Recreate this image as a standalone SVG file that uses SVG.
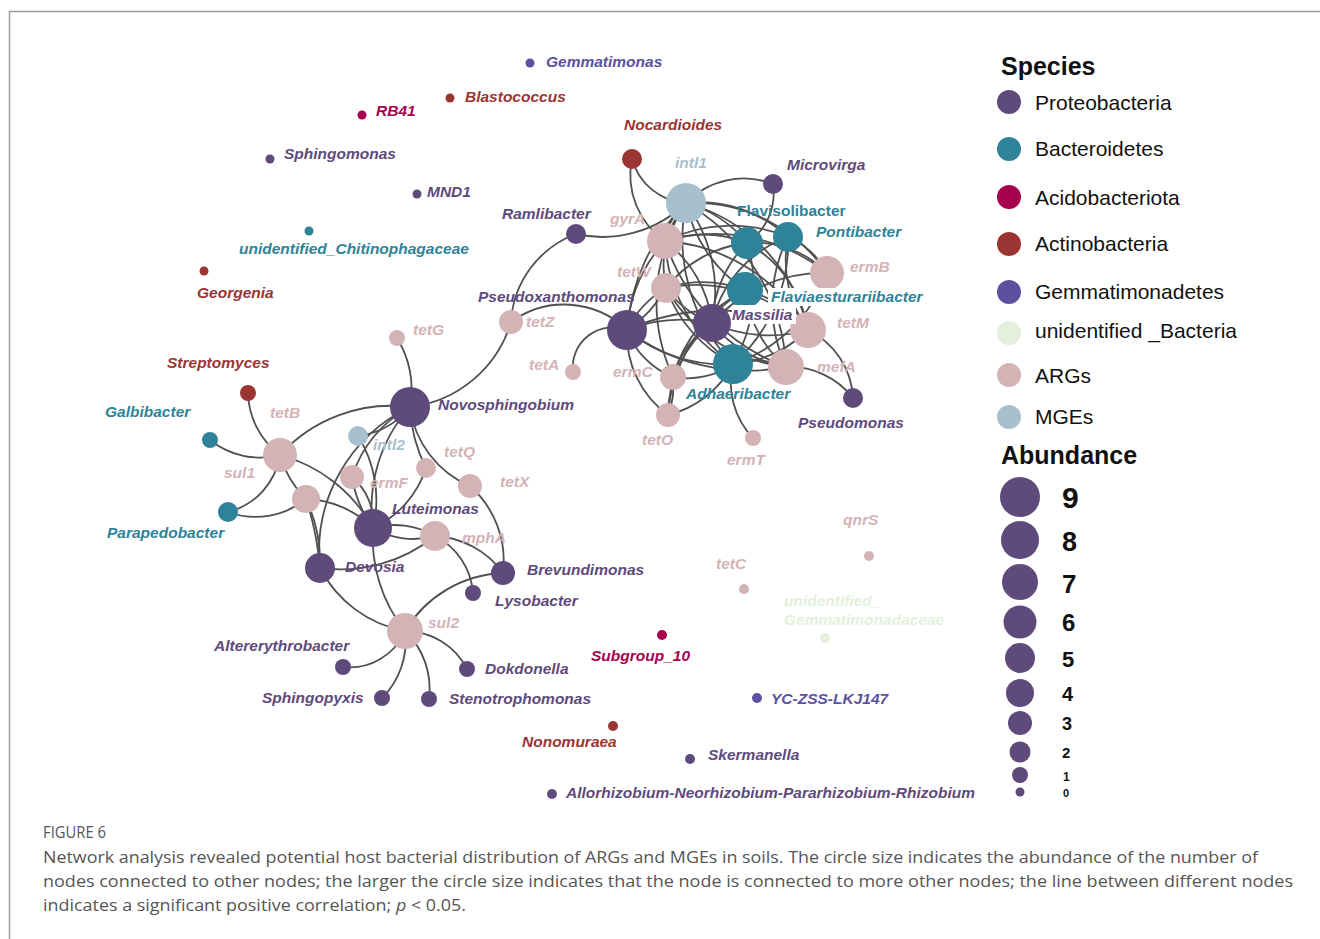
<svg xmlns="http://www.w3.org/2000/svg" width="1320" height="939" viewBox="0 0 1320 939">
<style>
.e{fill:none;stroke:#505050;stroke-width:1.8}
.t{font-family:"Liberation Sans",Arial,sans-serif;font-size:15.5px;font-style:italic;font-weight:bold}
.up{font-style:normal}
.pr{fill:#5f4a7c}.ba{fill:#2e8398}.ac{fill:#a6004f}.at{fill:#9b3533}.ge{fill:#5b51a0}.ub{fill:#e4f0dc}.ar{fill:#d3b3b6}.mg{fill:#a8bfce}
.lg{font-family:"Liberation Sans",Arial,sans-serif;font-size:21px;fill:#111}
.lh{font-family:"Liberation Sans",Arial,sans-serif;font-size:25px;font-weight:bold;fill:#111}
.ln{font-family:"Liberation Sans",Arial,sans-serif;font-weight:bold;fill:#111}
.cap{font-family:"Open Sans","Liberation Sans",sans-serif;font-size:17px;fill:#555}
</style>
<rect width="1320" height="939" fill="#fff"/>
<g id="frame"><path d="M9.5,939 V11.5 H1320" fill="none" stroke="#9a9a9a" stroke-width="1.5"/></g>
<g id="edges">
<path class="e" d="M632,159 A60,60 0 0 0 686,203"/>
<path class="e" d="M632,159 A80,80 0 0 0 665,241"/>
<path class="e" d="M576,234 A120,120 0 0 0 686,203"/>
<path class="e" d="M576,234 A100,100 0 0 0 511,322"/>
<path class="e" d="M773,184 A80,80 0 0 0 686,203"/>
<path class="e" d="M773,184 A60,60 0 0 1 747,243"/>
<path class="e" d="M686,203 A120,120 0 0 1 747,243"/>
<path class="e" d="M686,203 A130,130 0 0 1 788,237"/>
<path class="e" d="M686,203 A160,160 0 0 1 827,273"/>
<path class="e" d="M686,203 A140,140 0 0 0 745,290"/>
<path class="e" d="M686,203 A150,150 0 0 1 712,323"/>
<path class="e" d="M686,203 A180,180 0 0 0 733,364"/>
<path class="e" d="M686,203 A170,170 0 0 1 808,330"/>
<path class="e" d="M686,203 A200,200 0 0 1 786,367"/>
<path class="e" d="M686,203 A100,100 0 0 0 666,288"/>
<path class="e" d="M686,203 A60,60 0 0 0 665,241"/>
<path class="e" d="M686,203 A180,180 0 0 0 673,377"/>
<path class="e" d="M665,241 A120,120 0 0 1 747,243"/>
<path class="e" d="M665,241 A150,150 0 0 1 788,237"/>
<path class="e" d="M665,241 A180,180 0 0 1 827,273"/>
<path class="e" d="M665,241 A120,120 0 0 1 712,323"/>
<path class="e" d="M665,241 A160,160 0 0 0 733,364"/>
<path class="e" d="M665,241 A180,180 0 0 1 808,330"/>
<path class="e" d="M665,241 A200,200 0 0 0 786,367"/>
<path class="e" d="M666,288 A120,120 0 0 1 747,243"/>
<path class="e" d="M666,288 A120,120 0 0 1 745,290"/>
<path class="e" d="M666,288 A100,100 0 0 0 627,330"/>
<path class="e" d="M666,288 A120,120 0 0 1 627,330"/>
<path class="e" d="M666,288 A100,100 0 0 0 712,323"/>
<path class="e" d="M666,288 A140,140 0 0 0 733,364"/>
<path class="e" d="M666,288 A160,160 0 0 1 808,330"/>
<path class="e" d="M666,288 A160,160 0 0 0 786,367"/>
<path class="e" d="M627,330 A150,150 0 0 1 665,241"/>
<path class="e" d="M627,330 A200,200 0 0 1 686,203"/>
<path class="e" d="M627,330 A150,150 0 0 1 712,323"/>
<path class="e" d="M627,330 A150,150 0 0 0 733,364"/>
<path class="e" d="M627,330 A200,200 0 0 0 786,367"/>
<path class="e" d="M627,330 A220,220 0 0 1 808,330"/>
<path class="e" d="M627,330 A80,80 0 0 0 673,377"/>
<path class="e" d="M627,330 A100,100 0 0 0 668,415"/>
<path class="e" d="M573,372 A40,40 0 0 1 627,330"/>
<path class="e" d="M511,322 A90,90 0 0 1 627,330"/>
<path class="e" d="M712,323 A120,120 0 0 1 747,243"/>
<path class="e" d="M712,323 A120,120 0 0 1 788,237"/>
<path class="e" d="M712,323 A150,150 0 0 1 827,273"/>
<path class="e" d="M712,323 A140,140 0 0 0 808,330"/>
<path class="e" d="M712,323 A120,120 0 0 0 786,367"/>
<path class="e" d="M712,323 A100,100 0 0 0 673,377"/>
<path class="e" d="M712,323 A120,120 0 0 0 668,415"/>
<path class="e" d="M733,364 A150,150 0 0 0 747,243"/>
<path class="e" d="M733,364 A160,160 0 0 0 788,237"/>
<path class="e" d="M733,364 A150,150 0 0 0 827,273"/>
<path class="e" d="M733,364 A120,120 0 0 0 808,330"/>
<path class="e" d="M733,364 A80,80 0 0 1 673,377"/>
<path class="e" d="M733,364 A100,100 0 0 1 668,415"/>
<path class="e" d="M733,364 A80,80 0 0 0 753,438"/>
<path class="e" d="M733,364 A80,80 0 0 1 786,367"/>
<path class="e" d="M745,290 A120,120 0 0 1 808,330"/>
<path class="e" d="M745,290 A120,120 0 0 0 786,367"/>
<path class="e" d="M745,290 A140,140 0 0 0 673,377"/>
<path class="e" d="M745,290 A160,160 0 0 0 668,415"/>
<path class="e" d="M788,237 A80,80 0 0 1 827,273"/>
<path class="e" d="M747,243 A100,100 0 0 1 827,273"/>
<path class="e" d="M747,243 A120,120 0 0 1 808,330"/>
<path class="e" d="M788,237 A120,120 0 0 0 808,330"/>
<path class="e" d="M788,237 A150,150 0 0 0 786,367"/>
<path class="e" d="M786,367 A80,80 0 0 1 853,398"/>
<path class="e" d="M808,330 A80,80 0 0 1 853,398"/>
<path class="e" d="M673,377 A80,80 0 0 1 668,415"/>
<path class="e" d="M511,322 A120,120 0 0 1 410,407"/>
<path class="e" d="M397,338 A100,100 0 0 1 410,407"/>
<path class="e" d="M248,393 A80,80 0 0 0 280,455"/>
<path class="e" d="M210,440 A80,80 0 0 0 280,455"/>
<path class="e" d="M228,512 A70,70 0 0 0 280,455"/>
<path class="e" d="M228,512 A80,80 0 0 0 306,499"/>
<path class="e" d="M280,455 A150,150 0 0 1 410,407"/>
<path class="e" d="M280,455 A150,150 0 0 1 373,528"/>
<path class="e" d="M280,455 A100,100 0 0 0 306,499"/>
<path class="e" d="M306,499 A150,150 0 0 1 320,568"/>
<path class="e" d="M306,499 A300,300 0 0 1 320,568"/>
<path class="e" d="M306,499 A100,100 0 0 1 373,528"/>
<path class="e" d="M410,407 A80,80 0 0 1 358,436"/>
<path class="e" d="M410,407 A150,150 0 0 0 373,528"/>
<path class="e" d="M410,407 A120,120 0 0 0 352,477"/>
<path class="e" d="M410,407 A160,160 0 0 0 320,568"/>
<path class="e" d="M410,407 A150,150 0 0 0 426,468"/>
<path class="e" d="M410,407 A100,100 0 0 0 470,486"/>
<path class="e" d="M358,436 A120,120 0 0 1 373,528"/>
<path class="e" d="M352,477 A60,60 0 0 1 373,528"/>
<path class="e" d="M352,477 A120,120 0 0 0 373,528"/>
<path class="e" d="M426,468 A100,100 0 0 1 373,528"/>
<path class="e" d="M470,486 A100,100 0 0 1 503,573"/>
<path class="e" d="M373,528 A80,80 0 0 1 435,536"/>
<path class="e" d="M373,528 A80,80 0 0 0 435,536"/>
<path class="e" d="M373,528 A150,150 0 0 0 405,631"/>
<path class="e" d="M435,536 A150,150 0 0 1 320,568"/>
<path class="e" d="M435,536 A70,70 0 0 1 473,593"/>
<path class="e" d="M435,536 A90,90 0 0 1 503,573"/>
<path class="e" d="M320,568 A120,120 0 0 0 405,631"/>
<path class="e" d="M503,573 A120,120 0 0 0 405,631"/>
<path class="e" d="M405,631 A60,60 0 0 1 343,667"/>
<path class="e" d="M405,631 A80,80 0 0 1 382,698"/>
<path class="e" d="M405,631 A80,80 0 0 1 429,699"/>
<path class="e" d="M405,631 A70,70 0 0 1 467,669"/>
</g>
<g id="n-Gemmatimonas"><circle class="ge" cx="530" cy="63" r="4.5"/><text class="t ge" x="546" y="67">Gemmatimonas</text></g>
<g id="n-Blastococcus"><circle class="at" cx="450" cy="98" r="4.5"/><text class="t at" x="465" y="102">Blastococcus</text></g>
<g id="n-RB41"><circle class="ac" cx="362" cy="115" r="4.5"/><text class="t ac" x="376" y="116">RB41</text></g>
<g id="n-Sphingomonas"><circle class="pr" cx="270" cy="159" r="4.5"/><text class="t pr" x="284" y="159">Sphingomonas</text></g>
<g id="n-MND1"><circle class="pr" cx="417" cy="194" r="4.5"/><text class="t pr" x="427" y="197">MND1</text></g>
<g id="n-Chitinophagaceae"><circle class="ba" cx="309" cy="231" r="4.5"/><text class="t ba" x="239" y="254">unidentified_Chitinophagaceae</text></g>
<g id="n-Georgenia"><circle class="at" cx="204" cy="271" r="4.5"/><text class="t at" x="197" y="298">Georgenia</text></g>
<g id="n-Nocardioides"><circle class="at" cx="632" cy="159" r="10"/><text class="t at" x="624" y="130">Nocardioides</text></g>
<g id="n-intl1"><circle class="mg" cx="686" cy="203" r="20"/><text class="t mg" x="675" y="168">intl1</text></g>
<g id="n-Microvirga"><circle class="pr" cx="773" cy="184" r="10"/><text class="t pr" x="787" y="170">Microvirga</text></g>
<g id="n-Ramlibacter"><circle class="pr" cx="576" cy="234" r="10"/><text class="t pr" x="502" y="219">Ramlibacter</text></g>
<g id="n-gyrA"><circle class="ar" cx="665" cy="241" r="18"/><text class="t ar" x="610" y="224">gyrA</text></g>
<g id="n-Flavisolibacter"><circle class="ba" cx="747" cy="243" r="16"/><text class="t up ba" x="737" y="216">Flavisolibacter</text></g>
<g id="n-Pontibacter"><circle class="ba" cx="788" cy="237" r="15"/><text class="t ba" x="816" y="237">Pontibacter</text></g>
<g id="n-ermB"><circle class="ar" cx="827" cy="273" r="17"/><text class="t ar" x="850" y="272">ermB</text></g>
<g id="n-tetW"><circle class="ar" cx="666" cy="288" r="15"/><text class="t ar" x="617" y="277">tetW</text></g>
<g id="n-Pseudoxanthomonas"><circle class="pr" cx="627" cy="330" r="20"/><text class="t pr" x="478" y="302">Pseudoxanthomonas</text></g>
<g id="n-tetZ"><circle class="ar" cx="511" cy="322" r="12"/><text class="t ar" x="526" y="327">tetZ</text></g>
<g id="n-tetM"><circle class="ar" cx="808" cy="330" r="18"/><text class="t ar" x="837" y="328">tetM</text></g>
<g id="n-tetG"><circle class="ar" cx="397" cy="338" r="8"/><text class="t ar" x="413" y="335">tetG</text></g>
<g id="n-tetA"><circle class="ar" cx="573" cy="372" r="8"/><text class="t ar" x="529" y="370">tetA</text></g>
<g id="n-ermC"><circle class="ar" cx="673" cy="377" r="13"/><text class="t ar" x="613" y="377">ermC</text></g>
<g id="n-mefA"><circle class="ar" cx="786" cy="367" r="18"/><text class="t ar" x="817" y="372">mefA</text></g>
<g id="n-Adhaeribacter"><circle class="ba" cx="733" cy="364" r="20"/><text class="t ba" x="686" y="399">Adhaeribacter</text></g>
<g id="n-Pseudomonas"><circle class="pr" cx="853" cy="398" r="10"/><text class="t pr" x="798" y="428">Pseudomonas</text></g>
<g id="n-tetO"><circle class="ar" cx="668" cy="415" r="12"/><text class="t ar" x="642" y="445">tetO</text></g>
<g id="n-ermT"><circle class="ar" cx="753" cy="438" r="8"/><text class="t ar" x="727" y="465">ermT</text></g>
<g id="n-Flaviaesturariibacter"><circle class="ba" cx="745" cy="290" r="18"/><rect x="768" y="288" width="157" height="18" fill="#fff"/><text class="t ba" x="771" y="302">Flaviaesturariibacter</text></g>
<g id="n-Massilia"><circle class="pr" cx="712" cy="323" r="19"/><rect x="732" y="305" width="64" height="19" fill="#fff"/><text class="t pr" x="732" y="320">Massilia</text></g>
<g id="n-Streptomyces"><circle class="at" cx="248" cy="393" r="8"/><text class="t at" x="167" y="368">Streptomyces</text></g>
<g id="n-Novosphingobium"><circle class="pr" cx="410" cy="407" r="20"/><text class="t pr" x="438" y="410">Novosphingobium</text></g>
<g id="n-Galbibacter"><circle class="ba" cx="210" cy="440" r="8"/><text class="t ba" x="105" y="417">Galbibacter</text></g>
<g id="n-tetB"><circle class="ar" cx="280" cy="455" r="17"/><text class="t ar" x="270" y="418">tetB</text></g>
<g id="n-sul1"><circle class="ar" cx="306" cy="499" r="14"/><text class="t ar" x="224" y="478">sul1</text></g>
<g id="n-intl2"><circle class="mg" cx="358" cy="436" r="10"/><text class="t mg" x="373" y="450">intl2</text></g>
<g id="n-tetQ"><circle class="ar" cx="426" cy="468" r="10"/><text class="t ar" x="444" y="457">tetQ</text></g>
<g id="n-ermF"><circle class="ar" cx="352" cy="477" r="12"/><text class="t ar" x="370" y="488">ermF</text></g>
<g id="n-tetX"><circle class="ar" cx="470" cy="486" r="12"/><text class="t ar" x="500" y="487">tetX</text></g>
<g id="n-Parapedobacter"><circle class="ba" cx="228" cy="512" r="10"/><text class="t ba" x="107" y="538">Parapedobacter</text></g>
<g id="n-Luteimonas"><circle class="pr" cx="373" cy="528" r="19"/><text class="t pr" x="392" y="514">Luteimonas</text></g>
<g id="n-mphA"><circle class="ar" cx="435" cy="536" r="15"/><text class="t ar" x="462" y="543">mphA</text></g>
<g id="n-Devosia"><circle class="pr" cx="320" cy="568" r="15"/><text class="t pr" x="345" y="572">Devosia</text></g>
<g id="n-Brevundimonas"><circle class="pr" cx="503" cy="573" r="12"/><text class="t pr" x="527" y="575">Brevundimonas</text></g>
<g id="n-Lysobacter"><circle class="pr" cx="473" cy="593" r="8"/><text class="t pr" x="495" y="606">Lysobacter</text></g>
<g id="n-sul2"><circle class="ar" cx="405" cy="631" r="18"/><text class="t ar" x="428" y="628">sul2</text></g>
<g id="n-Altererythrobacter"><circle class="pr" cx="343" cy="667" r="8"/><text class="t pr" x="214" y="651">Altererythrobacter</text></g>
<g id="n-Dokdonella"><circle class="pr" cx="467" cy="669" r="8"/><text class="t pr" x="485" y="674">Dokdonella</text></g>
<g id="n-Sphingopyxis"><circle class="pr" cx="382" cy="698" r="8"/><text class="t pr" x="262" y="703">Sphingopyxis</text></g>
<g id="n-Stenotrophomonas"><circle class="pr" cx="429" cy="699" r="8"/><text class="t pr" x="449" y="704">Stenotrophomonas</text></g>
<g id="n-qnrS"><circle class="ar" cx="869" cy="556" r="5"/><text class="t ar" x="843" y="525">qnrS</text></g>
<g id="n-tetC"><circle class="ar" cx="744" cy="589" r="5"/><text class="t ar" x="716" y="569">tetC</text></g>
<g id="n-Gemmatimonadaceae"><circle class="ub" cx="825" cy="638" r="5"/><text class="t ub" x="784" y="606">unidentified_</text><text class="t ub" x="784" y="625">Gemmatimonadaceae</text></g>
<g id="n-Subgroup_10"><circle class="ac" cx="662" cy="635" r="5"/><text class="t ac" x="591" y="661">Subgroup_10</text></g>
<g id="n-YC-ZSS-LKJ147"><circle class="ge" cx="757" cy="698" r="5"/><text class="t ge" x="771" y="704">YC-ZSS-LKJ147</text></g>
<g id="n-Nonomuraea"><circle class="at" cx="613" cy="726" r="5"/><text class="t at" x="522" y="747">Nonomuraea</text></g>
<g id="n-Skermanella"><circle class="pr" cx="690" cy="759" r="5"/><text class="t pr" x="708" y="760">Skermanella</text></g>
<g id="n-Allorhizobium"><circle class="pr" cx="552" cy="794" r="5"/><text class="t pr" x="566" y="798">Allorhizobium-Neorhizobium-Pararhizobium-Rhizobium</text></g>
<g id="legend-species">
<text class="lh" x="1001" y="75">Species</text>
<circle class="pr" cx="1009" cy="102" r="12"/><text class="lg" x="1035" y="110">Proteobacteria</text>
<circle class="ba" cx="1009" cy="149" r="12"/><text class="lg" x="1035" y="156">Bacteroidetes</text>
<circle class="ac" cx="1009" cy="197" r="12"/><text class="lg" x="1035" y="205">Acidobacteriota</text>
<circle class="at" cx="1009" cy="244" r="12"/><text class="lg" x="1035" y="251">Actinobacteria</text>
<circle class="ge" cx="1009" cy="292" r="12"/><text class="lg" x="1035" y="299">Gemmatimonadetes</text>
<circle class="ub" cx="1009" cy="333" r="12"/><text class="lg" x="1035" y="338">unidentified _Bacteria</text>
<circle class="ar" cx="1009" cy="375" r="12"/><text class="lg" x="1035" y="383">ARGs</text>
<circle class="mg" cx="1009" cy="417" r="12"/><text class="lg" x="1035" y="424">MGEs</text>
</g>
<g id="legend-abundance">
<text class="lh" x="1001" y="464">Abundance</text>
<circle class="pr" cx="1020" cy="497" r="20"/><text class="ln" x="1062" y="508" font-size="30">9</text>
<circle class="pr" cx="1020" cy="540" r="19"/><text class="ln" x="1062" y="551" font-size="27">8</text>
<circle class="pr" cx="1020" cy="582" r="18"/><text class="ln" x="1062" y="593" font-size="26">7</text>
<circle class="pr" cx="1020" cy="622" r="16.5"/><text class="ln" x="1062" y="631" font-size="24">6</text>
<circle class="pr" cx="1020" cy="658" r="15"/><text class="ln" x="1062" y="667" font-size="22">5</text>
<circle class="pr" cx="1020" cy="693" r="14"/><text class="ln" x="1062" y="701" font-size="20">4</text>
<circle class="pr" cx="1020" cy="723" r="12"/><text class="ln" x="1062" y="730" font-size="18">3</text>
<circle class="pr" cx="1020" cy="752" r="10.5"/><text class="ln" x="1062" y="758" font-size="15">2</text>
<circle class="pr" cx="1020" cy="775" r="8"/><text class="ln" x="1063" y="781" font-size="12">1</text>
<circle class="pr" cx="1020" cy="792" r="4.5"/><text class="ln" x="1063" y="797" font-size="11">0</text>
</g>
<g id="caption">
<text class="cap" x="43" y="838" font-size="13" fill="#666" textLength="63" lengthAdjust="spacingAndGlyphs">FIGURE 6</text>
<text class="cap" x="43" y="863" textLength="1215" lengthAdjust="spacingAndGlyphs">Network analysis revealed potential host bacterial distribution of ARGs and MGEs in soils. The circle size indicates the abundance of the number of</text>
<text class="cap" x="43" y="887" textLength="1250" lengthAdjust="spacingAndGlyphs">nodes connected to other nodes; the larger the circle size indicates that the node is connected to more other nodes; the line between different nodes</text>
<text class="cap" x="43" y="911" textLength="423" lengthAdjust="spacingAndGlyphs">indicates a significant positive correlation; <tspan font-style="italic">p</tspan> &lt; 0.05.</text>
</g>
</svg>
